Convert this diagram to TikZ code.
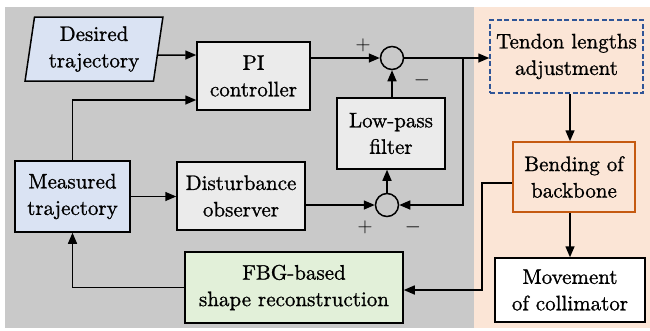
\documentclass[tikz,border=0pt]{standalone}
\usepackage{fontspec}
\newfontfamily\figfont{lmroman10-regular.otf}[RawFeature={embolden=1.0}]
\usetikzlibrary{arrows.meta,shapes.geometric}
\definecolor{bggray}{HTML}{C9C9C9}
\definecolor{bgpeach}{HTML}{FBE5D6}
\definecolor{boxgray}{HTML}{EBEBEB}
\definecolor{boxblue}{HTML}{DAE3F3}
\definecolor{boxgreen}{HTML}{E2F0D9}
\definecolor{edgeorange}{HTML}{C55A11}
\definecolor{edgeblue}{HTML}{2F5597}
\tikzset{
  blk/.style={draw=black, line width=1.5pt, align=center, inner sep=0pt,
    font=\figfont\fontsize{21}{26.5}\selectfont},
  sumnode/.style={circle, draw=black, line width=1.5pt, minimum size=23pt, inner sep=0pt},
  arr/.style={line width=1.5pt, -{Triangle[length=11pt,width=9pt]}},
  sgn/.style={font=\fontsize{20}{20}\selectfont, inner sep=0pt},
}
\begin{document}
\begin{tikzpicture}[x=1pt,y=-1pt]
\useasboundingbox (0,0) rectangle (650,330);
\fill[bggray] (5,7) rectangle (474,328);
\fill[bgpeach] (474,7) rectangle (650,328);

\node[blk, fill=boxblue, shape=trapezium, trapezium left angle=81, trapezium right angle=99,
  trapezium stretches=true, minimum width=138pt, minimum height=64pt] (desired) at (94,49) {Desired\\trajectory};
\node[blk, fill=boxgray, minimum width=113pt, minimum height=68pt] (pi) at (253.5,76) {PI\\controller};
\node[blk, fill=boxblue, minimum width=115pt, minimum height=71pt] (meas) at (72.5,196.5) {Measured\\trajectory};
\node[blk, fill=boxgray, minimum width=128pt, minimum height=68pt] (dist) at (241,196) {Disturbance\\observer};
\node[blk, fill=boxgray, minimum width=108pt, minimum height=71pt] (lpf) at (391,133.5) {Low-pass\\filter};
\node[blk, fill=boxgreen, minimum width=218pt, minimum height=71pt] (fbg) at (294,287.5) {FBG-based\\shape reconstruction};
\node[blk, draw=edgeblue, dash pattern=on 5pt off 2.5pt, line width=1.5pt, minimum width=153pt, minimum height=73pt] (tendon) at (566.5,56.5) {Tendon lengths\\adjustment};
\node[blk, draw=edgeorange, fill=bgpeach, minimum width=122pt, minimum height=70pt] (bend) at (574,177) {Bending of\\backbone};
\node[blk, fill=white, minimum width=150pt, minimum height=64pt] (move) at (570,290) {Movement\\of collimator};
\node[sumnode] (sum1) at (392,58) {};
\node[sumnode] (sum2) at (387,205) {};

\node[sgn] (p1) at (363,45) {$+$};
\node[sgn] (m1) at (422,80) {$-$};
\node[sgn] (p2) at (365,227) {$+$};
\node[sgn] (m2) at (413,227) {$-$};

\coordinate (br) at (463,58);
\coordinate (c1) at (482,290);

\draw[arr] ([xshift=-1pt,yshift=-6pt]desired.east) -- ([yshift=21pt]pi.west);
\draw[arr] (meas.north) |- ([yshift=-24pt]pi.west);
\draw[arr] ([yshift=18pt]pi.east) -- (sum1.west);
\draw[arr] (sum1.east) -- (sum1.east -| tendon.west);
\draw[arr] (br) |- (sum2.east);
\draw[arr] (sum1.south |- lpf.north) -- (sum1.south);
\draw[arr] (sum2.north) -- (sum2.north |- lpf.south);
\draw[arr] (dist.east |- sum2.west) -- (sum2.west);
\draw[arr] (meas.east) -- (meas.east -| dist.west);
\draw[arr] (fbg.west) -| (meas.south);
\draw[arr] ([xshift=3.5pt]tendon.south) -- ([xshift=-4pt]bend.north);
\draw[arr] (bend.south -| move.north) -- (move.north);
\draw[arr] ([yshift=-6pt]bend.west) -| (c1) -- (c1 -| fbg.east);
\end{tikzpicture}
\end{document}
